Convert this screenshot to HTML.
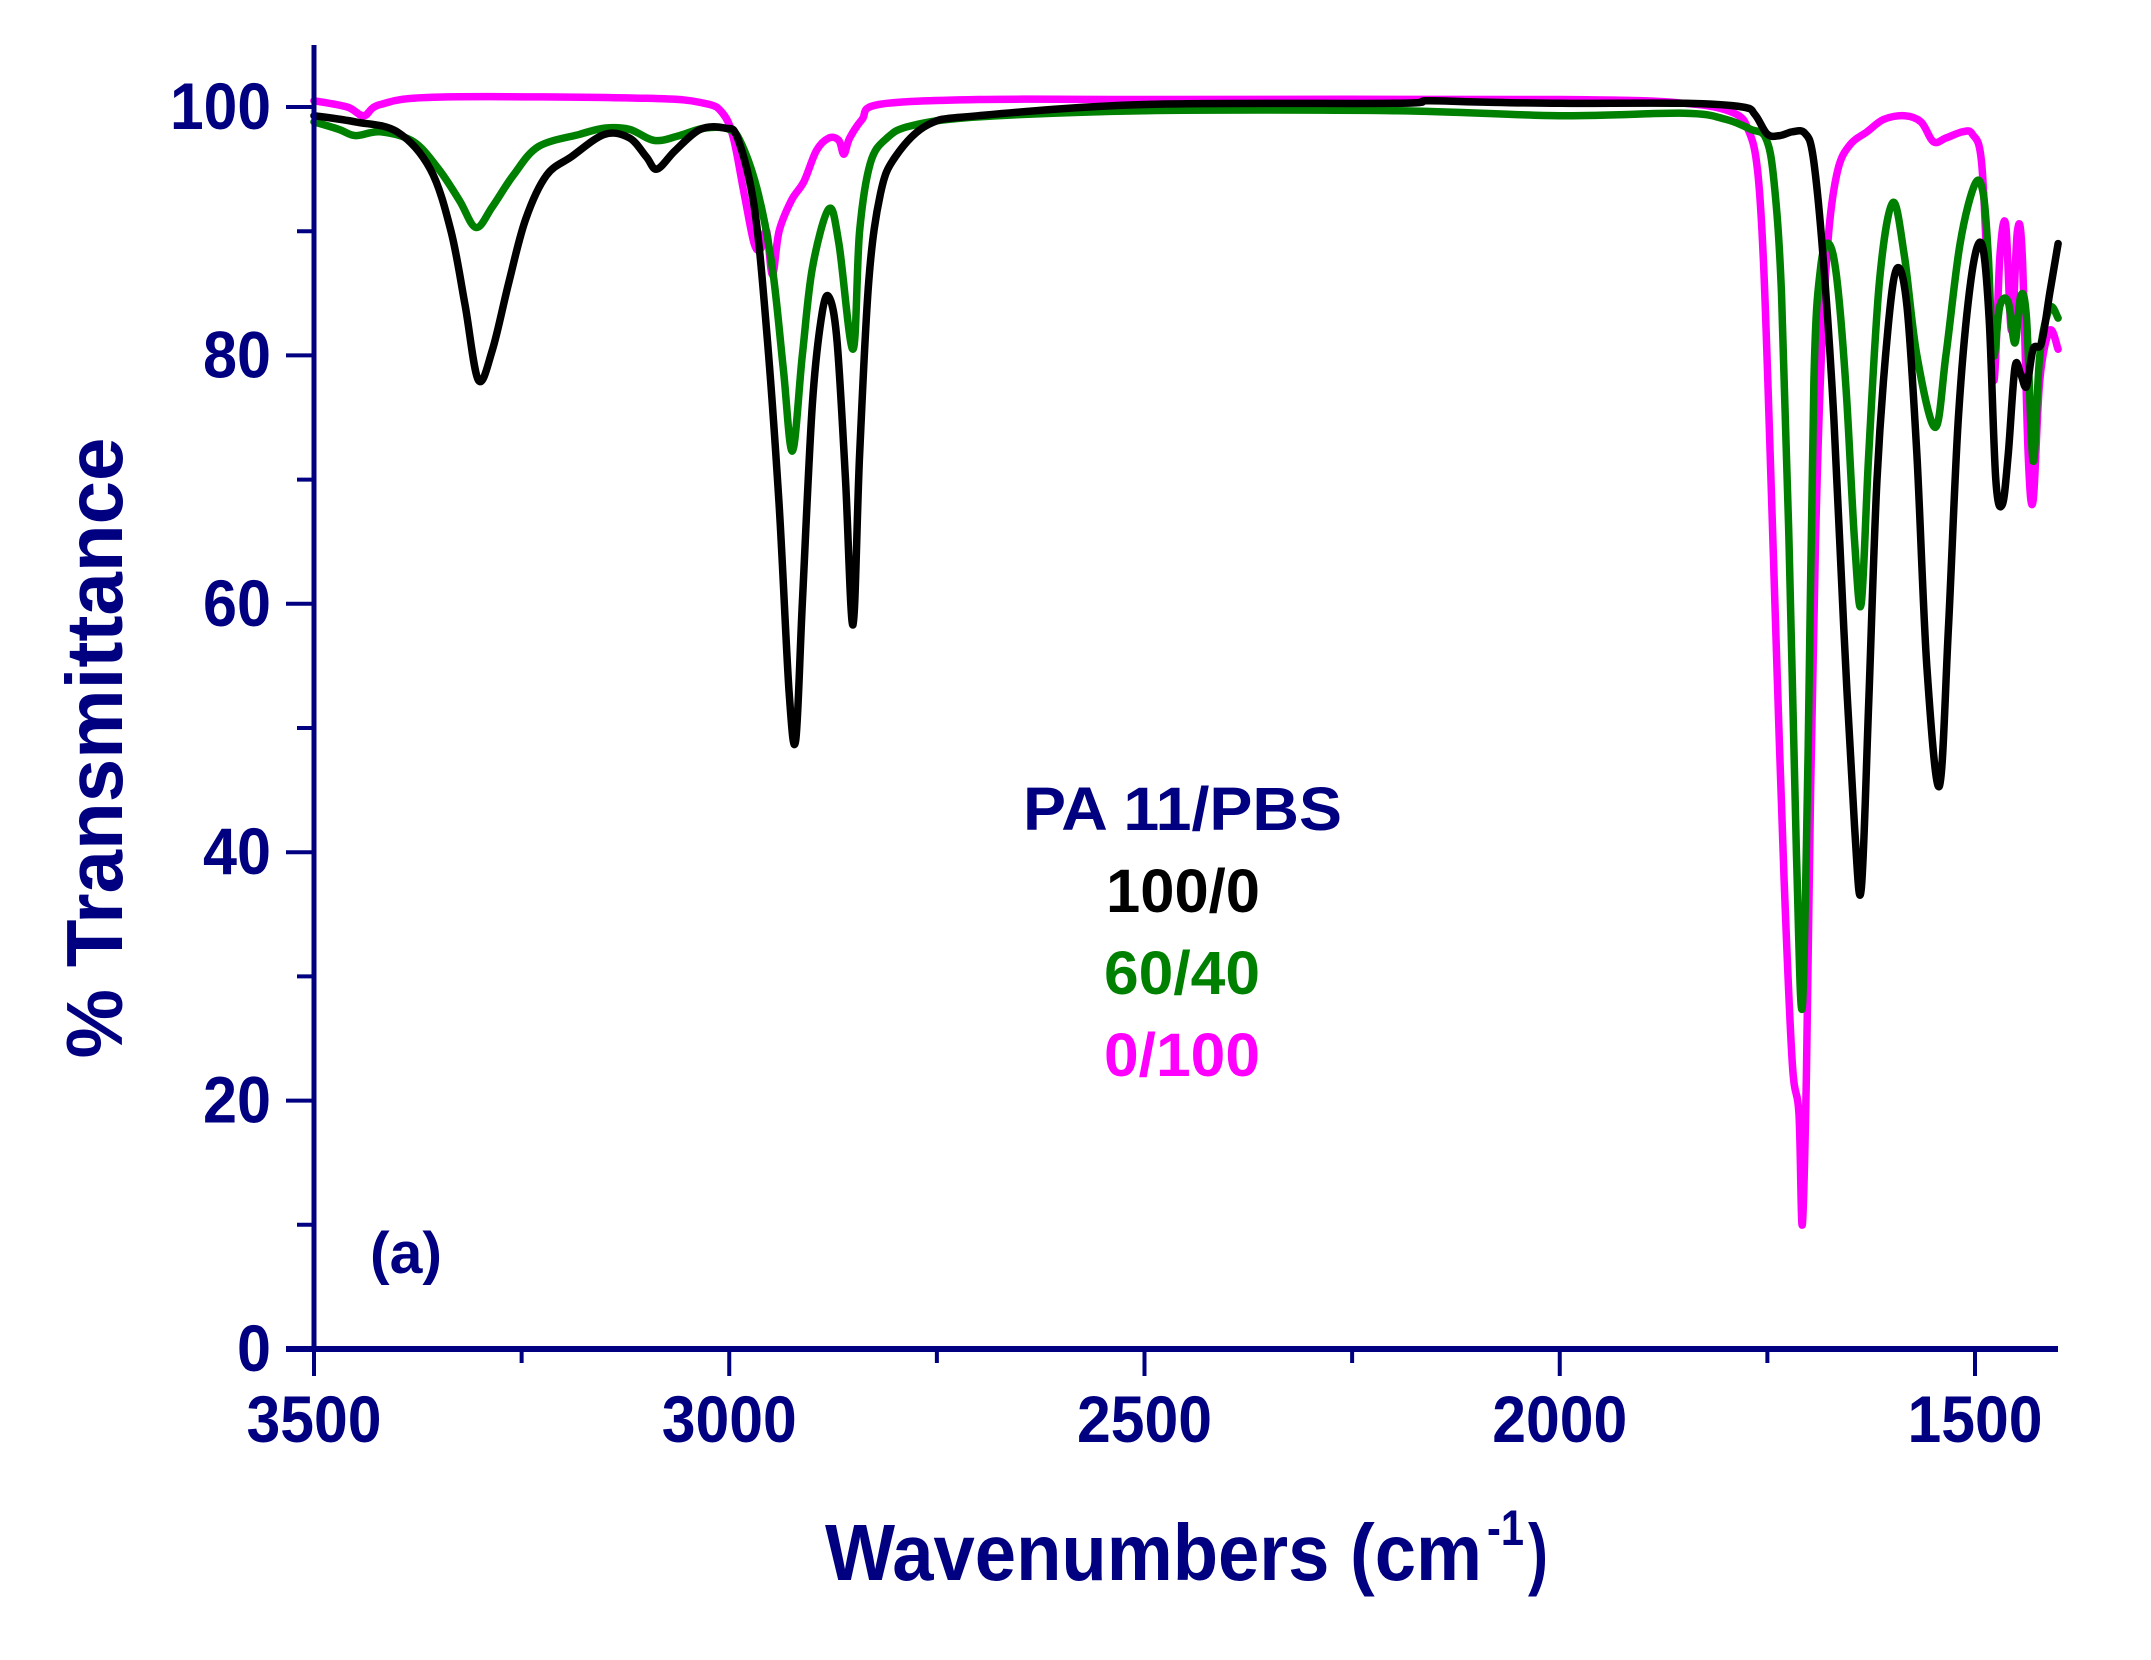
<!DOCTYPE html>
<html><head><meta charset="utf-8"><style>
html,body{margin:0;padding:0;background:#fff;}
svg{display:block;}
text{font-family:"Liberation Sans",Arial,sans-serif;font-weight:bold;}
</style></head><body>
<svg id="s" width="2151" height="1660" viewBox="0 0 2151 1660" xmlns="http://www.w3.org/2000/svg">
<g id="curves" fill="none" stroke-width="7.5" stroke-linejoin="round" stroke-linecap="round"></g>
<g stroke="#000080" fill="none">
<line x1="314" y1="45" x2="314" y2="1352" stroke-width="5"/>
<line x1="286" y1="1349" x2="2058" y2="1349" stroke-width="6"/>
<g stroke-width="4" id="ticks"></g>
</g>
<g fill="#000080" font-size="66" id="labels"></g>
<text x="122" y="748" font-size="80" fill="#000080" text-anchor="middle" textLength="621" lengthAdjust="spacingAndGlyphs" transform="rotate(-90 122 748)">% Transmittance</text>
<text x="825" y="1580" font-size="80" fill="#000080" textLength="657" lengthAdjust="spacingAndGlyphs">Wavenumbers (cm</text>
<text x="1487" y="1545" font-size="50" fill="#000080" textLength="37" lengthAdjust="spacingAndGlyphs">-1</text>
<text x="1528" y="1580" font-size="80" fill="#000080" textLength="20" lengthAdjust="spacingAndGlyphs">)</text>
<text x="370" y="1273" font-size="58" fill="#000080" textLength="72" lengthAdjust="spacingAndGlyphs">(a)</text>
<text x="1023" y="830" font-size="61" fill="#000080" textLength="319" lengthAdjust="spacingAndGlyphs">PA 11/PBS</text>
<text x="1106" y="912" font-size="61" fill="#000000" textLength="154" lengthAdjust="spacingAndGlyphs">100/0</text>
<text x="1104" y="994" font-size="61" fill="#008000" textLength="156" lengthAdjust="spacingAndGlyphs">60/40</text>
<text x="1104" y="1076" font-size="61" fill="#ff00ff" textLength="156" lengthAdjust="spacingAndGlyphs">0/100</text>
</svg>
<script>
var NS="http://www.w3.org/2000/svg";
function X(w){return 314+(3500-w)*0.8305;}
function Y(t){return 1349-t*12.42;}
var tk=document.getElementById('ticks'),lb=document.getElementById('labels');
function ln(a,b,c,d){var l=document.createElementNS(NS,'line');l.setAttribute('x1',a);l.setAttribute('y1',b);l.setAttribute('x2',c);l.setAttribute('y2',d);tk.appendChild(l);}
function tx(s,x,y,anc,len){var t=document.createElementNS(NS,'text');t.setAttribute('x',x);t.setAttribute('y',y);t.setAttribute('text-anchor',anc);t.setAttribute('textLength',len);t.setAttribute('lengthAdjust','spacingAndGlyphs');t.textContent=s;lb.appendChild(t);}
for(var v=0;v<=100;v+=10){var y=Y(v);if(v%20==0){ln(286,y,314,y);tx(String(v),271,y+22,'end',v==100?101:(v==0?34:68));}else ln(297,y,314,y);}
for(var w=3500;w>=1500;w-=250){var x=X(w);if(w%500==0){ln(x,1349,x,1376);tx(String(w),x,1442,'middle',135);}else ln(x,1349,x,1363);}
var black=[[3500,99.3],[3450,98.8],[3400,98],[3360,95],[3335,90],[3318,84],[3302,78],[3285,80.5],[3265,86],[3245,91],[3220,94.5],[3190,96],[3150,97.8],[3120,97.5],[3100,96],[3087,95],[3065,96.5],[3035,98.2],[3005,98.3],[2990,97.5],[2970,92],[2955,82],[2940,68],[2928,53],[2920,49],[2912,60],[2900,76],[2888,83.5],[2879,84.6],[2870,81],[2860,70],[2851,58.3],[2843,72],[2832,86],[2818,93],[2800,96],[2760,98.6],[2700,99.3],[2500,100.2],[2200,100.3],[2160,100.5],[2100,100.4],[2000,100.3],[1850,100.3],[1780,100],[1765,99.4],[1750,97.8],[1735,97.7],[1720,98],[1705,97.9],[1695,96],[1683,88],[1670,75],[1658,58],[1645,42],[1637,37],[1628,52],[1618,70],[1605,82],[1594,87],[1582,84],[1570,72],[1558,55],[1543,45.3],[1532,58],[1520,75],[1505,86],[1492,89],[1483,83],[1475,70],[1467,68],[1460,72],[1452,79],[1445,78.5],[1438,77.5],[1430,80.5],[1420,81],[1410,85],[1400,89]];
var green=[[3500,98.8],[3470,98.2],[3450,97.7],[3420,98],[3380,97.2],[3350,95],[3325,92.5],[3305,90.3],[3285,92],[3260,94.5],[3230,96.8],[3180,97.8],[3150,98.3],[3120,98.2],[3090,97.3],[3060,97.7],[3030,98.3],[3000,98.2],[2985,97],[2965,93],[2948,87],[2935,79],[2924,72.3],[2912,80],[2900,87],[2880,91.8],[2868,89],[2851,80.5],[2843,90],[2830,95.5],[2810,97.5],[2780,98.5],[2700,99.2],[2500,99.7],[2200,99.7],[2000,99.3],[1850,99.5],[1800,99],[1770,98.2],[1752,97.5],[1742,94],[1733,85],[1724,65],[1715,40],[1708,27.5],[1701,48],[1694,78],[1686,87],[1676,89],[1666,86],[1655,77],[1645,65],[1637,60],[1628,72],[1615,86],[1599,92.3],[1585,88],[1570,80],[1548,74.2],[1535,80],[1518,89],[1500,93.8],[1490,93],[1484,88],[1478,80],[1470,84],[1460,84.3],[1452,81],[1445,84.8],[1438,83],[1430,71.5],[1422,80],[1410,83.8],[1400,83]];
var mag=[[3500,100.5],[3460,100],[3440,99.3],[3420,100.2],[3350,100.8],[3100,100.7],[3030,100.3],[3008,99.5],[2995,97.5],[2982,93],[2970,89],[2962,88.6],[2955,90],[2948,86.5],[2940,90],[2925,92.5],[2910,94],[2895,96.5],[2880,97.5],[2868,97.3],[2862,96.2],[2855,97.5],[2840,99],[2820,100.2],[2700,100.6],[2500,100.6],[2000,100.6],[1850,100.3],[1790,99.5],[1772,98],[1762,95],[1755,88],[1748,75],[1740,58],[1730,38],[1720,23],[1712,19],[1708,10],[1703,22],[1698,45],[1692,65],[1685,80],[1676,90],[1665,95],[1650,97],[1630,98],[1610,99],[1585,99.3],[1565,98.8],[1550,97.2],[1535,97.5],[1515,98],[1503,97.8],[1492,95.5],[1484,85],[1477,78],[1470,88],[1463,90.5],[1456,82],[1449,90],[1443,88],[1436,72],[1430,68.3],[1422,78],[1410,82],[1400,80.5]];
function path(p){var pts=p.map(function(a){return [X(a[0]),Y(a[1])];});var d='M'+pts[0][0].toFixed(1)+' '+pts[0][1].toFixed(1);
for(var i=0;i<pts.length-1;i++){var p0=pts[i>0?i-1:i],p1=pts[i],p2=pts[i+1],p3=pts[i+2<pts.length?i+2:i+1];
var c1x=p1[0]+(p2[0]-p0[0])/6,c1y=p1[1]+(p2[1]-p0[1])/6,c2x=p2[0]-(p3[0]-p1[0])/6,c2y=p2[1]-(p3[1]-p1[1])/6;
d+=' C'+c1x.toFixed(1)+' '+c1y.toFixed(1)+' '+c2x.toFixed(1)+' '+c2y.toFixed(1)+' '+p2[0].toFixed(1)+' '+p2[1].toFixed(1);}return d;}
var g=document.getElementById('curves');
[[mag,'#ff00ff'],[green,'#008000'],[black,'#000000']].forEach(function(s){var e=document.createElementNS(NS,'path');e.setAttribute('d',path(s[0]));e.setAttribute('stroke',s[1]);g.appendChild(e);});
</script>
</body></html>
